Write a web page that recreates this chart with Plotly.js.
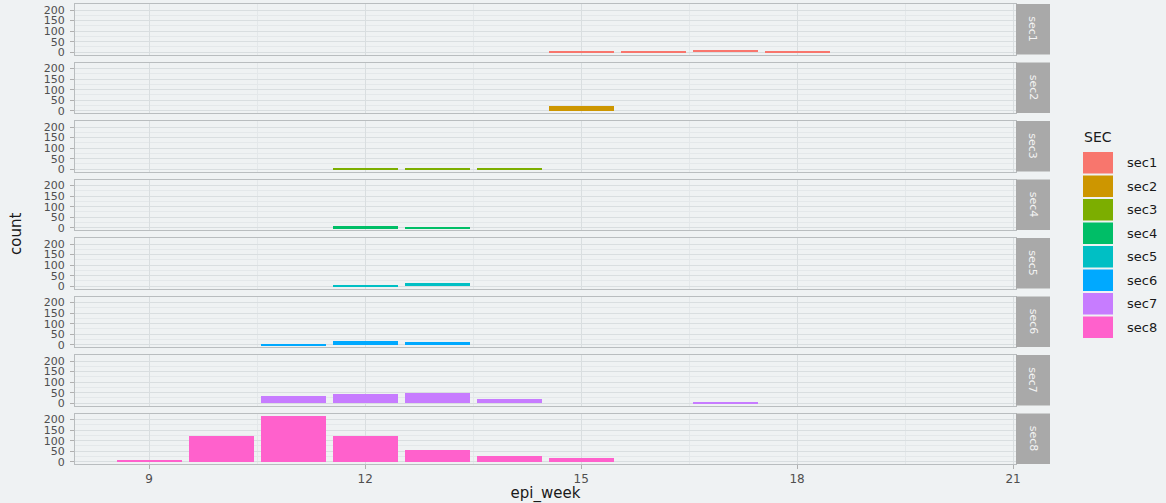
<!DOCTYPE html>
<html>
<head>
<meta charset="utf-8">
<script src="https://cdn.plot.ly/plotly-3.0.1.min.js"></script>
<style>
  html, body { margin: 0; padding: 0; background: #eff2f3; }
  #chart { width: 1166px; height: 503px; }
</style>
</head>
<body>
<div id="chart"></div>
<script>
// Weekly case counts, one facet per sector
const sectors = ["sec1", "sec2", "sec3", "sec4", "sec5", "sec6", "sec7", "sec8"];
const sectorColors = ["#F8766D", "#CD9600", "#7CAE00", "#00BE67", "#00BFC4", "#00A9FF", "#C77CFF", "#FF61CC"];

const sec1Weeks = [15, 16, 17, 18];
const sec1Counts = [8, 8, 11, 8];
const sec2Weeks = [15];
const sec2Counts = [25];
const sec3Weeks = [12, 13, 14];
const sec3Counts = [6, 6, 4];
const sec4Weeks = [12, 13];
const sec4Counts = [9, 6];
const sec5Weeks = [12, 13];
const sec5Counts = [8, 16];
const sec6Weeks = [11, 12, 13];
const sec6Counts = [5, 19, 15];
const sec7Weeks = [11, 12, 13, 14, 17];
const sec7Counts = [35, 46, 49, 21, 5];
const sec8Weeks = [9, 10, 11, 12, 13, 14, 15];
const sec8Counts = [11, 123, 218, 123, 59, 29, 19];

const xTicks = [9, 12, 15, 18, 21];
const yTicks = [0, 50, 100, 150, 200];

const seriesWeeks = [sec1Weeks, sec2Weeks, sec3Weeks, sec4Weeks, sec5Weeks, sec6Weeks, sec7Weeks, sec8Weeks];
const seriesCounts = [sec1Counts, sec2Counts, sec3Counts, sec4Counts, sec5Counts, sec6Counts, sec7Counts, sec8Counts];

// Page geometry (pixels)
const W = 1166, H = 503;
const plotL = 75, plotR = 1016, plotT = 4, plotB = 464;
const plotW = plotR - plotL, plotH = plotB - plotT;
const nPanels = sectors.length;
const panelH = 50.5, panelGap = 8;

const px2x = px => (px - plotL) / plotW;
const px2y = py => (plotB - py) / plotH;

const bg = "#eff2f3";
const gridMajor = "#d9dee0";
const gridMinor = "#e4e8ea";
const borderCol = "#b9bdbf";
const stripCol = "#a9a9a9";
const tickFont = { family: "DejaVu Sans, sans-serif", size: 11, color: "#4f4f4f" };

// Shared y range with 5% expansion on both sides
const yMax = Math.max(...seriesCounts.map(c => Math.max(...c)));
const yRange = [-0.05 * yMax, yMax * 1.05];
const xRange = [7.97, 21.04];

const data = [];
const layout = {
  width: W, height: H,
  paper_bgcolor: bg, plot_bgcolor: bg,
  margin: { l: plotL, r: W - plotR, t: plotT, b: H - plotB, pad: 0 },
  showlegend: false,
  bargap: 0,
  hovermode: false,
  shapes: [],
  annotations: []
};

sectors.forEach((name, i) => {
  const n = i + 1;
  const xa = n === 1 ? "x" : "x" + n;
  const ya = n === 1 ? "y" : "y" + n;
  const top = plotT + i * (panelH + panelGap);
  const bot = top + panelH;
  const last = i === nPanels - 1;

  data.push({
    type: "bar",
    name: name,
    x: seriesWeeks[i],
    y: seriesCounts[i],
    width: 0.9,
    marker: { color: sectorColors[i], line: { width: 0 } },
    xaxis: xa, yaxis: ya
  });

  layout["xaxis" + (n === 1 ? "" : n)] = {
    domain: [0, 1],
    anchor: ya,
    range: xRange,
    tickvals: xTicks,
    ticktext: xTicks.map(String),
    showticklabels: last,
    ticks: last ? "outside" : "",
    ticklen: 4,
    tickcolor: "#b0b0b0",
    tickfont: { family: "DejaVu Sans, sans-serif", size: 12, color: "#4f4f4f" },
    showgrid: true, gridcolor: gridMajor, gridwidth: 1,
    minor: { tickvals: [10.5, 13.5, 16.5, 19.5], showgrid: true, gridcolor: gridMinor, gridwidth: 0.6, ticks: "" },
    zeroline: false,
    showline: true, mirror: true, linecolor: borderCol, linewidth: 1,
    fixedrange: true,
    title: last ? { text: "epi_week", font: { family: "DejaVu Sans, sans-serif", size: 15, color: "#1a1a1a" }, standoff: 6 } : { text: "" }
  };

  layout["yaxis" + (n === 1 ? "" : n)] = {
    domain: [px2y(bot), px2y(top)],
    anchor: xa,
    range: yRange,
    tickvals: yTicks,
    ticks: "outside",
    ticklen: 4,
    tickcolor: "#b0b0b0",
    tickfont: tickFont,
    ticklabelstandoff: 3,
    showgrid: true, gridcolor: gridMajor, gridwidth: 1,
    minor: { dtick: 25, showgrid: true, gridcolor: gridMinor, gridwidth: 0.6, ticks: "" },
    zeroline: false,
    showline: true, mirror: true, linecolor: borderCol, linewidth: 1,
    fixedrange: true
  };

  // facet strip on the right
  layout.shapes.push({
    type: "rect", xref: "paper", yref: "paper",
    x0: 1, x1: px2x(1050), y0: px2y(bot), y1: px2y(top),
    fillcolor: stripCol, line: { width: 0 }, layer: "above"
  });
  layout.annotations.push({
    xref: "paper", yref: "paper",
    x: px2x(1033), y: px2y((top + bot) / 2),
    text: name, showarrow: false, textangle: 90,
    font: { family: "DejaVu Sans, sans-serif", size: 11, color: "#f4f4f4" },
    xanchor: "center", yanchor: "middle"
  });
});

// y axis title
layout.annotations.push({
  xref: "paper", yref: "paper",
  x: px2x(16), y: px2y(234),
  text: "count", showarrow: false, textangle: -90,
  font: { family: "DejaVu Sans, sans-serif", size: 15, color: "#1a1a1a" },
  xanchor: "center", yanchor: "middle"
});

// legend: title, colour keys and labels
layout.annotations.push({
  xref: "paper", yref: "paper",
  x: px2x(1082), y: px2y(137),
  text: "SEC", showarrow: false,
  font: { family: "DejaVu Sans, sans-serif", size: 14, color: "#1a1a1a" },
  xanchor: "left", yanchor: "middle"
});
const keyTop = 152, keyStep = 23.5, keyH = 21.5;
sectors.forEach((name, i) => {
  const t = keyTop + i * keyStep;
  layout.shapes.push({
    type: "rect", xref: "paper", yref: "paper",
    x0: px2x(1083), x1: px2x(1113), y0: px2y(t + keyH), y1: px2y(t),
    fillcolor: sectorColors[i], line: { width: 0 }
  });
  layout.annotations.push({
    xref: "paper", yref: "paper",
    x: px2x(1125), y: px2y(t + keyH / 2),
    text: name, showarrow: false,
    font: { family: "DejaVu Sans, sans-serif", size: 13, color: "#1a1a1a" },
    xanchor: "left", yanchor: "middle"
  });
});

Plotly.newPlot("chart", data, layout, { displayModeBar: false });
</script>
</body>
</html>
